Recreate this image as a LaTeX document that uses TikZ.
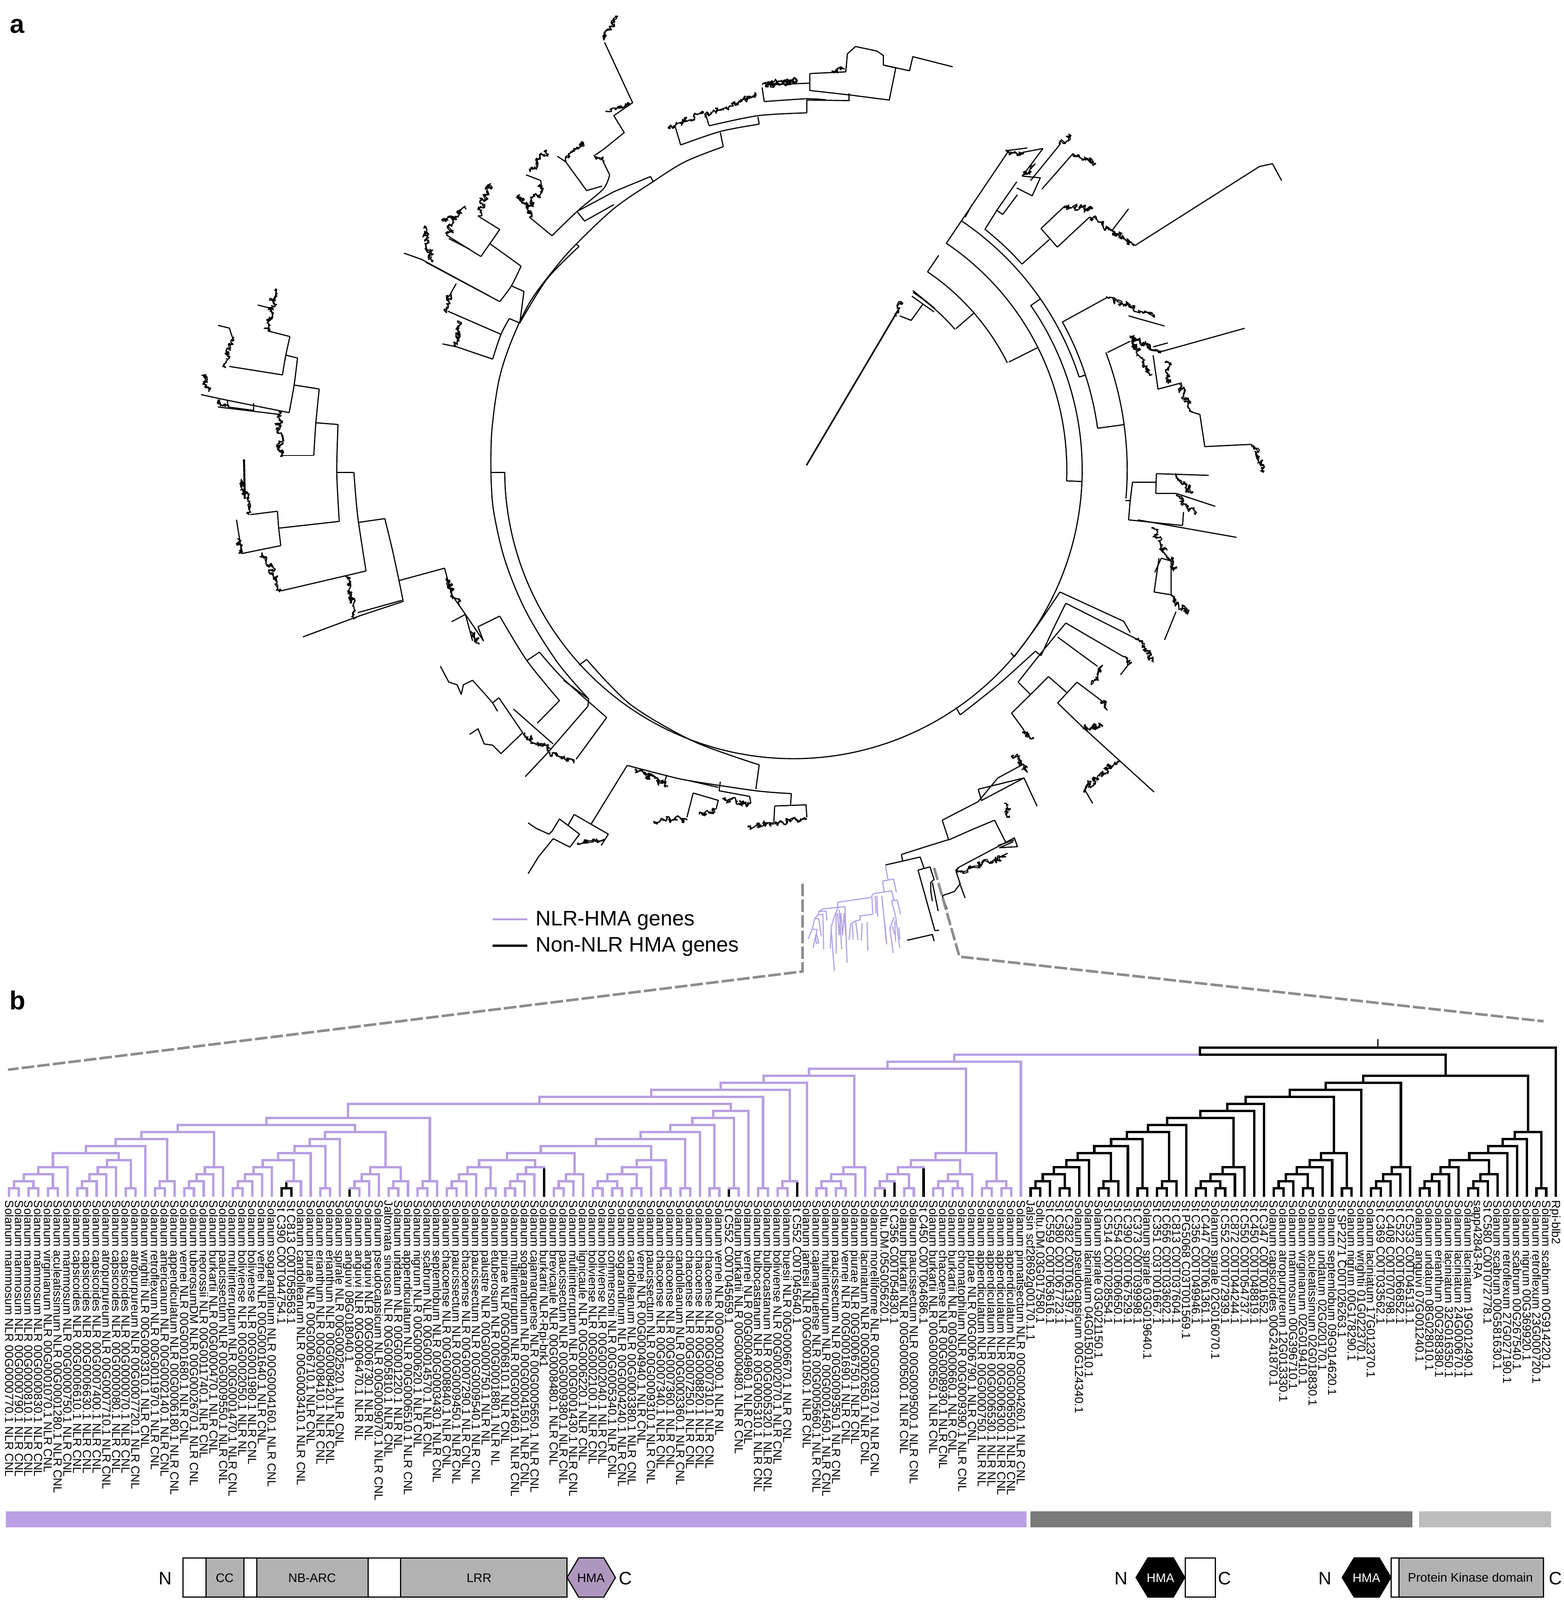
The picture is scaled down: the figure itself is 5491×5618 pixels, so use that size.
\documentclass[tikz,border=0pt]{standalone}
\usepackage{fontspec}
\setmainfont{Liberation Sans}
\usetikzlibrary{decorations.pathmorphing}
\definecolor{treep}{HTML}{B79FE2}
\definecolor{barp}{HTML}{BBA0E6}
\definecolor{bard}{HTML}{7A7A7A}
\definecolor{barl}{HTML}{BDBDBD}
\definecolor{dom}{HTML}{B2B2B2}
\definecolor{hmap}{HTML}{AE97BF}
\definecolor{dashc}{HTML}{8C8C8C}
\definecolor{twp}{HTML}{B3A3E6}
\tikzset{
  lab/.style={rotate=-90,anchor=base west,inner sep=0pt,font=\fontsize{11.77}{12}\selectfont},
  tbr/.style={line width=0.085cm},
  tw/.style={line width=0.04cm,line join=round},
  fz/.style={line width=0.035cm,line join=round,decorate,decoration={random steps,segment length=2pt,amplitude=3.5pt},
     postaction={draw,decorate,decoration={random steps,segment length=1.2pt,amplitude=2pt}}},
  pt/.style={line width=0.04cm,draw=twp,line join=round},
  dashln/.style={line width=0.09cm,draw=dashc,dash pattern=on 0.44cm off 0.11cm},
  gt/.style={inner sep=0pt,font=\fontsize{12.4}{13}\selectfont},
  nc/.style={inner sep=0pt,font=\fontsize{18}{20}\selectfont},
  dbox/.style={line width=0.04cm,draw=black},
  pan/.style={inner sep=0pt,font=\bfseries\fontsize{26}{28}\selectfont},
  leg/.style={inner sep=0pt,anchor=west,font=\fontsize{21}{24}\selectfont},
}
% --- stack machine for the cladogram of panel b
\newcount\stp \newcount\lfn
\def\tipy{4203}
\def\TipC#1{\global\advance\lfn1 \global\advance\stp1
  \pgfmathsetmacro\tmpx{32+34.16*(\the\lfn-1)}%
  \expandafter\xdef\csname tx\the\stp\endcsname{\tmpx}%
  \expandafter\xdef\csname ty\the\stp\endcsname{\tipy}%
  \expandafter\xdef\csname tc\the\stp\endcsname{#1}}
\def\P{\TipC{treep}}
\def\Q{\TipC{black}}
\def\JoinN#1#2#3#4{% level, node colour, left half colour, right half colour
  \edef\tia{\the\numexpr\stp-1\relax}\edef\tib{\the\stp}%
  \edef\xxa{\csname tx\tia\endcsname}\edef\xxb{\csname tx\tib\endcsname}%
  \edef\yya{\csname ty\tia\endcsname}\edef\yyb{\csname ty\tib\endcsname}%
  \edef\cca{\csname tc\tia\endcsname}\edef\ccb{\csname tc\tib\endcsname}%
  \pgfmathsetmacro\yyn{4172.5-24.69*(#1-1)}%
  \pgfmathsetmacro\xxm{(\xxa+\xxb)/2}%
  \draw[tbr,draw=\cca] (\xxa,\yya) -- (\xxa,\yyn);
  \draw[tbr,draw=\ccb] (\xxb,\yyb) -- (\xxb,\yyn);
  \draw[tbr,draw=#3,line cap=rect] (\xxa,\yyn) -- (\xxm,\yyn);
  \draw[tbr,draw=#4,line cap=rect] (\xxm,\yyn) -- (\xxb,\yyn);
  \global\advance\stp-1
  \expandafter\xdef\csname tx\the\stp\endcsname{\xxm}%
  \expandafter\xdef\csname ty\the\stp\endcsname{\yyn}%
  \expandafter\xdef\csname tc\the\stp\endcsname{#2}}
\def\Jp#1{\JoinN{#1}{treep}{treep}{treep}}
\def\Jk#1{\JoinN{#1}{black}{black}{black}}
% polar helpers for the main circular arcs
\def\parc#1#2#3{\draw[tw] plot[domain=#2:#3,samples=70,smooth] ({2786+#1*cos(\x)},{1650-#1*sin(\x)});}
\def\prad#1#2#3{\draw[tw] ({2786+#2*cos(#1)},{1650-#2*sin(#1)}) -- ({2786+#3*cos(#1)},{1650-#3*sin(#1)});}
\begin{document}
\begin{tikzpicture}[x=0.01cm,y=-0.01cm]
\useasboundingbox (0,0) rectangle (5491,5618);
\node[pan] (pa) at (60,92) {a};
\node[pan] (pb) at (62,3512) {b};
% ================= panel a : main arcs ====================
\parc{1014}{180.4}{394.8}
\parc{960}{-2.3}{56}
\prad{-2.3}{960}{1014}
\prad{26.6}{846}{960}
\parc{840}{26.6}{55.9}
\prad{55.9}{840}{910}
\prad{41}{756}{840}
\parc{752}{41}{56}
\prad{56}{960}{1346}
\prad{34.7}{1014}{1055}
\parc{1055}{18}{56}
\prad{18}{1055}{1078}
\parc{1078}{7.8}{28.9}
\parc{1080}{42}{51.4}
\prad{42}{1080}{1209}
\prad{7.8}{1078}{1172}
\prad{28.8}{1078}{1257}
\parc{1172}{-4.9}{20.6}
% ---------------- left half (coordinates of crop 1)
\begin{scope}[shift={(600,50)},x=0.01467cm,y=-0.01977cm]
\draw[tw] (766,813) -- (799,813);
\draw[tw] plot[smooth,tension=.55] coordinates {(766,813)(772,880)(800,970)(850,1060)(925,1150)(1000,1215)};
\draw[tw] plot[smooth,tension=.55] coordinates {(766,813)(768,740)(785,650)(815,580)(860,510)(920,450)(970,408)(1060,345)(1148,300)(1230,262)(1322,235)};
\draw[tw] (970,408) -- (977,412);
\draw[tw] plot[smooth] coordinates {(977,412)(900,470)(835,548)};
\draw[tw] (810,540) -- (835,548) -- (845,492) -- (815,482);
\draw[tw] plot[smooth] coordinates {(770,612)(790,568)(810,540)};
\draw[tw] plot[smooth] coordinates {(787,510)(815,482)(838,447)};
\draw[tw] (683,590) -- (770,612);
\draw[tw] (663,527) -- (790,568);
\draw[tw] (683,590) -- (650,585);
\draw[fz] (683,590) -- (690,545);
\draw[fz] (660,530) -- (670,495);
\draw[tw] (670,495) -- (683,478);
\draw[tw] (787,510) -- (600,435) -- (558,424);
\draw[tw] (762,500) -- (610,440);
\draw[fz] (605,380) -- (625,440);
\draw[tw] (838,447) -- (765,408);
\draw[tw] (787,382) -- (742,430);
\draw[tw] (787,382) -- (735,358);
\draw[fz] (735,358) -- (765,300);
\draw[fz] (705,345) -- (652,368);
\draw[tw] (742,430) -- (662,393) ;
\draw[tw] (715,417) -- (665,398);
\draw[fz] (662,393) -- (680,365);
% left clades
\draw[tw] plot[smooth] coordinates {(285,572)(275,605)(267,640)};
\draw[tw] (285,572) -- (232,562);
\draw[fz] (232,562) -- (248,490);
\draw[tw] (208,516) -- (240,522);
\draw[tw] (267,640) -- (140,625);
\draw[fz] (130,625) -- (148,575);
\draw[tw] (113,552) -- (140,557) -- (148,575);
\draw[tw] plot[smooth] coordinates {(303,610)(295,658)(283,707)};
\draw[tw] (303,610) -- (275,605);
\draw[tw] (283,707) -- (135,685) -- (137,697) -- (198,703) -- (198,690);
\draw[tw] (113,697) -- (258,710);
\draw[fz] (90,670) -- (78,640);
\draw[tw] (72,675) -- (135,685);
\draw[fz] (118,685) -- (135,695);
\draw[tw] plot[smooth] coordinates {(355,665)(347,725)(342,783)};
\draw[tw] (355,665) -- (295,658);
\draw[tw] (342,783) -- (263,783);
\draw[fz] (258,705) -- (262,785);
\draw[tw] plot[smooth] coordinates {(400,728)(397,813)(403,900)};
\draw[tw] (400,728) -- (347,725);
\draw[tw] (403,900) -- (258,912);
\draw[tw] (255,882) -- (258,912) -- (263,943);
\draw[tw] (255,882) -- (190,888);
\draw[fz] (188,888) -- (168,825);
\draw[tw,line width=0.07cm] (175,790) -- (177,860);
\draw[tw] (263,943) -- (170,957) -- (157,897);
\draw[fz] (170,957) -- (160,930);
\draw[tw] (396,813) -- (438,813);
\draw[tw] plot[smooth] coordinates {(438,813)(447,890)(467,988)};
\draw[tw] (467,988) -- (265,1023);
\draw[fz] (265,1023) -- (218,955);
\draw[tw] plot[smooth] coordinates {(512,895)(530,950)(546,1005)(556,1042)};
\draw[tw] (512,895) -- (447,902);
\draw[tw] (546,1005) -- (655,983);
\draw[tw] (556,1042) -- (450,1068) -- (316,1105);
\draw[tw] (447,1062) -- (553,1040);
\draw[fz] (418,998) -- (445,1070);
\draw[tw] (655,983) -- (672,1030) -- (705,1065) -- (748,1112) -- (735,1087);
\draw[fz] (660,1000) -- (690,1050);
\draw[tw] (672,1078) -- (705,1065) -- (722,1112) ;
\draw[fz] (718,1095) -- (738,1118);
% lower left
\draw[tw] plot[smooth] coordinates {(787,1068)(852,1147)(930,1218)};
\draw[tw] (787,1068) -- (735,1087);
\draw[tw] (852,1147) -- (882,1132);
\draw[tw] plot[smooth] coordinates {(882,1132)(940,1180)(1043,1248)};
\draw[tw] (940,1182) -- (1000,1215) -- (998,1228);
\draw[tw] (930,1218) -- (877,1258);
\draw[tw] (820,1233) -- (915,1295);
\draw[tw] (785,1213) -- (842,1275) -- (790,1312) -- (770,1297) -- (750,1295) -- (735,1268) -- (715,1278);
\draw[tw] (645,1157) -- (665,1185) -- (685,1190) -- (695,1207) -- (700,1190) -- (722,1182) -- (750,1205) -- (770,1222) -- (782,1237);
\draw[tw] (770,1222) -- (785,1213);
\draw[fz] (845,1280) -- (910,1305);
\draw[tw] (998,1228) -- (900,1312) -- (848,1353);
\draw[tw] (1043,1248) -- (970,1322);
\draw[fz] (905,1310) -- (965,1328);
% bottom
\draw[tw] plot[smooth] coordinates {(995,1145)(1100,1225)(1250,1290)(1408,1332)};
\draw[tw] (977,1155) -- (995,1145);
\draw[tw] (1408,1332) -- (1400,1375);
\draw[tw] plot[smooth] coordinates {(1092,1333)(1180,1350)(1240,1360)(1400,1378)(1485,1383)};
\draw[tw] (1092,1333) -- (1005,1438);
\draw[tw] (1485,1383) -- (1483,1403);
\draw[tw] (965,1420) -- (1047,1455);
\draw[tw] (965,1420) -- (950,1440);
\draw[tw] (855,1435) -- (875,1445) -- (905,1455) -- (912,1450) -- (930,1428) -- (978,1455) -- (955,1478) -- (915,1463) -- (880,1495) -- (855,1525);
\draw[tw] (1047,1455) -- (1030,1475);
\draw[fz] (975,1470) -- (1035,1468);
\draw[fz] (1110,1340) -- (1190,1370);
\draw[tw] (1180,1365) -- (1187,1350);
\draw[tw] (1240,1360) -- (1310,1372);
\draw[tw] (1250,1382) -- (1235,1425);
\draw[fz] (1235,1428) -- (1155,1432);
\draw[tw] (1250,1382) -- (1310,1395) -- (1305,1410);
\draw[fz] (1305,1410) -- (1265,1420);
\draw[tw] (1315,1362) -- (1312,1378) -- (1385,1388) -- (1388,1400);
\draw[fz] (1388,1400) -- (1320,1392);
\draw[tw] (1445,1405) -- (1520,1403) -- (1522,1425);
\draw[tw] (1445,1405) -- (1443,1435);
\draw[fz] (1443,1437) -- (1380,1442);
\draw[fz] (1522,1428) -- (1445,1437);
% top left
\draw[tw] (972,350) -- (1060,315) -- (1148,288) -- (1155,298);
\draw[tw] (972,350) -- (990,367) -- (1060,338);
\draw[tw] plot[smooth] coordinates {(912,393)(975,348)(1035,310)(1050,285)};
\draw[tw] (912,393) -- (858,360);
\draw[fz] (858,360) -- (835,320);
\draw[fz] (855,345) -- (888,305);
\draw[tw] (888,310) -- (885,295) -- (850,285);
\draw[fz] (860,280) -- (900,243);
\draw[tw] (1032,305) -- (995,313) -- (945,262);
\draw[fz] (945,262) -- (985,228);
\draw[tw] (925,252) -- (945,262);
\draw[tw] (1050,285) -- (1035,262);
\draw[fz] (1035,262) -- (1012,250);
\draw[tw] (1015,250) -- (1035,240) -- (1085,210) -- (1060,180) -- (1105,157) -- (1038,50);
\draw[fz] (1035,45) -- (1068,5);
\draw[fz] (1040,172) -- (1100,160);
\draw[tw] (1322,235) -- (1315,210);
\draw[tw] plot[smooth] coordinates {(1220,232)(1315,208)(1408,195)};
\draw[tw] (1220,232) -- (1208,202);
\draw[tw] (1408,195) -- (1405,182);
\draw[tw] plot[smooth] coordinates {(1288,198)(1405,180)(1522,175)};
\draw[tw] (1288,198) -- (1280,178);
\draw[tw] (1522,175) -- (1522,152);
\draw[tw] plot[smooth] coordinates {(1420,155)(1522,150)(1568,152)};
\draw[tw] (1420,155) -- (1415,130);
\draw[fz] (1192,203) -- (1270,172);
\draw[fz] (1280,180) -- (1400,145);
\draw[fz] (1415,125) -- (1500,118);
\end{scope}
% ---------------- right half (coordinates of crop 2)
\begin{scope}[shift={(2700,100)},x=0.01148cm,y=-0.01977cm]
\draw[tw] (0,100) -- (125,97);
\draw[tw] (125,80) -- (125,110) -- (247,118) -- (368,127) -- (388,70);
\draw[tw] (245,128) -- (245,115);
\draw[tw] (115,127) -- (247,128);
\draw[tw] (125,80) -- (235,77) -- (240,45) -- (265,32) -- (330,40) -- (350,48) -- (350,65) -- (430,75) -- (440,50) -- (562,68);
\draw[tw] (388,70) -- (350,65);
\draw[fz] (0,100) -- (85,92);
\draw[fz] (195,76) -- (232,72);
\draw[tw] (725,217) -- (790,212);
\draw[fz] (725,217) -- (780,222);
\draw[tw] (775,220) -- (838,213);
\draw[tw] (600,335) -- (622,312);
% root line
\draw[tw,line width=0.055cm] (115,775) -- (400,495);
\draw[fz] (385,510) -- (408,490);
\draw[tw] (470,490) -- (435,518) -- (400,510);
\draw[tw] (437,475) -- (505,503);
\draw[tw] (440,465) -- (508,497);
% upper right clades
\draw[tw] (660,357) -- (700,320) -- (758,272);
\draw[tw] (695,322) -- (715,330) -- (760,295);
\draw[tw] (758,283) -- (805,297) -- (830,265) -- (775,262) -- (838,213);
\draw[fz] (775,262) -- (815,240);
\draw[tw] (835,285) -- (930,222);
\draw[fz] (930,222) -- (1000,240);
\draw[tw] (800,270) -- (887,208);
\draw[fz] (887,208) -- (925,190);
\draw[tw] (832,355) -- (882,388);
\draw[tw] (832,355) -- (905,315);
\draw[fz] (905,315) -- (990,320);
\draw[tw] (882,388) -- (980,335);
\draw[fz] (980,335) -- (1120,385);
\draw[tw] (1050,358) -- (1100,320);
\draw[tw] (1120,385) -- (1500,245) -- (1540,240) -- (1568,270);
% middle right
\draw[fz] (1035,478) -- (1180,512);
\draw[tw] (1100,510) -- (1210,528);
\draw[tw] (1035,575) -- (1105,555);
\draw[fz] (1105,548) -- (1170,615);
\draw[fz] (1105,548) -- (1190,575);
\draw[tw] (1175,565) -- (1220,558);
\draw[tw] (1190,575) -- (1455,532);
\draw[tw] (1175,580) -- (1190,640) -- (1255,630);
\draw[fz] (1255,630) -- (1290,680);
\draw[tw] (1290,680) -- (1318,685) -- (1333,742) -- (1475,738);
\draw[fz] (1475,738) -- (1515,785);
\draw[fz] (1215,590) -- (1220,630);
\draw[tw] (1090,838) -- (1105,838);
\draw[tw] plot[smooth] coordinates {(1112,805)(1105,838)(1100,872)};
\draw[tw] (1112,805) -- (1185,805);
\draw[tw] (1185,790) -- (1183,825);
\draw[tw] (1185,790) -- (1345,793);
\draw[tw] (1183,825) -- (1245,825) -- (1365,848);
\draw[fz] (1245,790) -- (1295,825);
\draw[fz] (1245,828) -- (1300,860);
\draw[tw] (1100,872) -- (1265,882);
\draw[tw] (1128,872) -- (1430,903);
\draw[tw] (1265,882) -- (1268,858);
\draw[fz] (1175,885) -- (1240,960);
\draw[tw] (1180,965) -- (1200,940) -- (1230,945) -- (1230,1005) -- (1178,1000) -- (1193,940);
\draw[fz] (1230,1005) -- (1280,1040);
\draw[tw] (1245,1035) -- (1210,1085);
% lower right arcs
\draw[tw] (572,1205) -- (585,1218);
\draw[tw] plot[smooth] coordinates {(585,1218)(700,1165)(815,1105)};
\draw[tw] (815,1105) -- (832,1113);
\draw[tw] (740,1108) -- (750,1115);
\draw[tw] plot[smooth] coordinates {(750,1115)(820,1060)(890,1000)};
\draw[tw] (890,1000) -- (1085,1052) -- (1105,1072);
\draw[tw] plot[smooth] coordinates {(832,1113)(870,1065)(908,1020)};
\draw[tw] (908,1020) -- (1130,1085);
\draw[fz] (1130,1085) -- (1175,1125);
\draw[tw] plot[smooth] coordinates {(762,1160)(830,1110)(908,1055)};
\draw[tw] (908,1055) -- (1085,1115);
\draw[fz] (1085,1115) -- (1110,1125);
\draw[tw] (1105,1125) -- (1075,1147);
\draw[tw] (883,1080) -- (1005,1132);
\draw[fz] (1020,1130) -- (985,1165);
\draw[tw] (762,1160) -- (800,1182);
\draw[tw] plot[smooth] coordinates {(742,1215)(800,1182)(855,1150)};
\draw[tw] (855,1150) -- (910,1178);
\draw[tw] (942,1160) -- (883,1197);
\draw[tw] (942,1160) -- (1022,1195);
\draw[fz] (1022,1195) -- (1035,1210);
\draw[tw] (883,1197) -- (960,1240) -- (1178,1355);
\draw[fz] (960,1240) -- (1022,1238);
\draw[fz] (1065,1300) -- (965,1350);
\draw[tw] (965,1350) -- (990,1375);
\draw[tw] (742,1215) -- (780,1245);
\draw[fz] (775,1250) -- (810,1260);
\draw[fz] (750,1290) -- (790,1320);
\draw[tw] (530,1405) -- (640,1372) -- (700,1330) -- (780,1305);
\draw[tw] (530,1405) -- (550,1440);
\draw[tw] (640,1350) -- (780,1330) -- (820,1380);
\draw[tw] (640,1350) -- (650,1370) -- (780,1330);
\draw[fz] (720,1375) -- (735,1400);
\draw[tw] plot[smooth] coordinates {(550,1440)(620,1422)(690,1405)};
\draw[tw] (690,1405) -- (725,1445);
\draw[tw] (700,1450) -- (750,1440);
\draw[fz] (575,1495) -- (725,1470);
\end{scope}
% ---------------- bottom part (coordinates of crop 3)
\begin{scope}[shift={(2700,2900)},x=0.00574cm,y=-0.003827cm]
\draw[tw] plot[smooth] coordinates {(810,262)(950,195)(1100,125)};
\draw[tw] (810,262) -- (818,322);
\draw[tw] (712,358) -- (818,322) -- (925,285) -- (948,385);
\draw[tw] (912,405) -- (985,375);
\draw[tw] (912,405) -- (1015,960);
\draw[tw] (985,375) -- (1010,490) -- (990,520) -- (990,600) -- (1000,690);
\draw[tw] (1000,520) -- (1035,780);
\draw[tw] (1015,960) -- (1040,955);
\draw[tw] (845,1048) -- (1000,995) -- (1010,1055);
\draw[tw] (1140,410) -- (1160,380) -- (1500,110);
\draw[tw] (1500,105) -- (1520,190) -- (1410,200) -- (1495,145);
\draw[tw] (1160,380) -- (1145,420) -- (1170,530) -- (1135,600) -- (1060,640) -- (1090,760);
\draw[tw] (1165,520) -- (1200,660);
\draw[tw] (1380,310) -- (1460,250);
% purple
\draw[pt] (712,358) -- (728,490);
\draw[pt] (695,505) -- (762,487) -- (780,610);
\draw[pt] (695,505) -- (705,605);
\draw[pt] (640,620) -- (750,595) -- (765,680);
\draw[pt] (750,685) -- (785,680) -- (805,810);
\draw[pt] (750,685) -- (775,830);
\draw[pt] (640,620) -- (625,650);
\draw[pt] (420,745) -- (420,700) -- (625,655);
\draw[pt] (330,760) -- (465,740);
\draw[pt] (330,760) -- (305,785) -- (300,815) -- (280,850) -- (265,945) -- (240,1035);
\draw[pt] (305,785) -- (350,780) -- (355,865);
\draw[pt] (300,815) -- (330,810) -- (335,1130);
\draw[pt] (280,850) -- (305,850) -- (320,1010);
\draw[pt] (265,945) -- (295,950) -- (270,1115);
\draw[pt] (290,985) -- (305,1070) -- (290,1075) -- (285,1000);
\draw[pt] (425,745) -- (400,830) -- (380,930) -- (400,1330);
\draw[pt] (430,770) -- (445,1130);
\draw[pt] (465,740) -- (478,1255);
\draw[pt] (410,800) -- (410,1170);
\draw[pt] (420,800) -- (430,1000) -- (440,800) -- (450,1000) -- (460,800) -- (470,1000);
\draw[pt] (380,960) -- (375,1125);
\draw[pt] (635,810) -- (555,825) -- (560,860) -- (530,870) -- (500,900) -- (490,1045);
\draw[pt] (530,865) -- (545,1045);
\draw[pt] (600,880) -- (605,1145);
\draw[pt] (570,890) -- (565,1050);
\draw[pt] (510,900) -- (515,1040);
\draw[pt] (630,650) -- (635,810);
\draw[pt] (650,640) -- (655,800);
\draw[pt] (660,640) -- (665,830);
\draw[pt] (690,640) -- (720,1085);
\draw[pt] (705,860) -- (720,1060);
\draw[pt] (710,900) -- (715,1030);
\draw[pt] (765,835) -- (740,940) -- (760,1165);
\draw[pt] (775,830) -- (800,1115);
\draw[pt] (770,870) -- (775,1060);
\draw[pt] (755,920) -- (770,1000);
\draw[pt] (795,930) -- (800,1040);
\end{scope}
% ================= legend ====================
\coordinate (la1) at (1730,3228); \coordinate (la2) at (1852,3228);
\coordinate (lb1) at (1730,3321); \coordinate (lb2) at (1852,3321);
\draw[line width=0.08cm,draw=treep] (la1) -- (la2);
\draw[line width=0.08cm] (lb1) -- (lb2);
\node[leg] (lega) at (1880,3232) {NLR-HMA genes};
\node[leg] (legb) at (1880,3324) {Non-NLR HMA genes};
% ================= zoom guides ====================
\coordinate (gl1) at (2818,3103); \coordinate (gl2) at (2818,3411); \coordinate (gl3) at (28,3756);
\coordinate (gr1) at (3280,3047); \coordinate (gr2) at (3369,3359); \coordinate (gr3) at (5420,3586);
\draw[dashln] (gl1) -- (gl2) -- (gl3);
\draw[dashln] (gr1) -- (gr2) -- (gr3);
% ================= panel b : cladogram ====================
\P\P\Jp1\P\P\Jp1\Jp2\P\P\Jp1\Jp3\P\Jp4
\P\P\Jp1\P\Jp2\P\Jp3\P\Jp4\P\P\Jp1\Jp5\Jp6\P\Jp7
\P\P\Jp1\P\Jp2\Jp8
\P\P\Jp1\P\Jp2\P\Jp3\P\Jp4\Jp9
\P\P\Jp1\P\Jp2\P\Jp3\P\Jp4
\Q\Q\Jk1\P\Jp2\Jp5\P\Jp6\P\P\Jp1\Jp7\P\Jp8
\Q\P\Jp1\P\Jp2\P\Jp3\P\P\Jp1\P\Jp2\Jp4\Jp9\Jp{10}
\P\P\Jp1\P\Jp2\Jp{11}
\P\P\Jp1\P\Jp2\P\Jp3\P\P\Jp1\Jp4
\P\P\Jp1\P\Jp2\P\Jp3\Q\Jp4\Jp5
\P\P\Jp1\P\Jp2\P\Jp3\Jp6
\P\P\Jp1\P\P\Jp1\Jp2\P\P\Jp1\Jp3\P\Jp4\P\P\Jp1\Jp5\Jp7
\P\P\Jp1\Jp8\P\Jp9\P\P\Jp1\Jp{10}\Q\P\Jp1\Jp{11}\P\Jp{12}\Jp{13}
\P\P\Jp1\Jp{14}\P\P\Jp1\Q\Jp2\Jp{15}\P\Jp{16}
\P\P\Jp1\P\P\Jp1\Jp2\P\Jp3\P\Jp4\Jp{17}
\P\Q\Jp1\Q\Jp2\P\P\Jp1\Jp3\Q\Jp4
\P\P\Jp1\P\P\Jp1\Jp2\P\Jp3\Jp5
\P\P\Jp1\P\P\Jp1\Jp2\Jp6\Jp{18}\P\Jp{19}
% black clade
\Q\Q\Jk1\Q\Jk2\Q\Q\Jk1\Jk3\Q\Jk4\Q\Jk5\Q\Q\Jk1\Q\Jk2\Jk6\Q\Jk7\Q\Q\Jk1\Jk8
\Q\Q\Jk1\Q\Jk2\Jk9\Q\Jk{10}
\Q\Q\Jk1\Q\Q\Jk1\Jk2\Q\Jk3\Q\Jk4\Jk{11}\Q\Jk{12}\Q\Jk{13}
\Q\Q\Jk1\Q\Jk2\Q\Q\Jk1\Jk3\Q\Jk4\Q\Jk5\Q\Q\Jk1\Jk6\Jk{14}\Q\Jk{15}
\Q\Q\Jk1\Q\Jk2\Q\Jk3\Q\Jk4\Jk{16}
\Q\Q\Jk1\Q\Jk2\Q\Jk3\Q\Jk4\Q\Q\Jk1\Q\Jk2\Q\Jk3\Jk5\Q\Jk6\Q\Jk7\Q\Jk8\Q\Q\Jk1\Jk9\Jk{17}
\JoinN{20}{black}{treep}{black}
\Q\Jk{21}
\edef\rootx{\csname tx\the\stp\endcsname}
\edef\rooty{\csname ty\the\stp\endcsname}
\draw[line width=0.05cm] (\rootx,\rooty) -- (\rootx,3648);
% ================= labels ====================
\foreach \t [count=\i] in {
Solanum mammosum NLR 00G0000770.1 NLR CNL,
Solanum mammosum NLR 00G0000790.1 NLR CNL,
Solanum mammosum NLR 00G0000810.1 NLR CNL,
Solanum mammosum NLR 00G0000830.1 NLR CNL,
Solanum virginianum NLR 00G0001070.1 NLR CNL,
Solanum aculeatissimum NLR 00G0001280.1 NLR CNL,
Solanum mammosum NLR 00G0000750.1 NLR CNL,
Solanum capsicoides NLR 00G0006610.1 NLR CNL,
Solanum capsicoides NLR 00G0006630.1 NLR CNL,
Solanum capsicoides NLR 00G0007400.1 NLR CNL,
Solanum atropurpureum NLR 00G0007710.1 NLR CNL,
Solanum capsicoides NLR 00G0000080.1 NLR CNL,
Solanum capsicoides NLR 00G0000070.1 NLR CNL,
Solanum atropurpureum NLR 00G0007720.1 NLR CNL,
Solanum wrightii NLR 00G0003310.1 NLR CNL,
Solanum retroflexum NLR 00G0011970.1 NLR CNL,
Solanum americanum NLR 00G0002140.1 NLR CNL,
Solanum appendiculatum NLR 00G0006180.1 NLR CNL,
Solanum vernei NLR 00G0001680.1 NLR CNL,
Solanum tuberosumDM NLR 00G0002670.1 NLR CNL,
Solanum neorossii NLR 00G0011740.1 NLR CNL,
Solanum burkartii NLR 00G0000470.1 NLR CNL,
Solanum paucissectum NLR 00G0009550.1 NLR CNL,
Solanum multiinterruptum NLR 00G0001470.1 NLR CNL,
Solanum boliviense NLR 00G0002050.1 NLR NL,
Solanum boliviense NLR 00G0001980.1 NLR CNL,
Solanum vernei NLR 00G0001640.1 NLR CNL,
Solanum sogarandinum NLR 00G0004160.1 NLR CNL,
St C390 C00T044754.1,
St C813 C00T058563.1,
Solanum candolleanum NLR 00G0003410.1 NLR CNL,
Solanum piurae NLR 00G0006710.1 NLR CNL,
Solanum erianthum NLR 00G0008410.1 NLR CNL,
Solanum erianthum NLR 00G0008420.1 NLR CNL,
Solanum spirale NLR 00G0002520.1 NLR CNL,
Solanum anguivi 08G018040.1,
Solanum anguivi NLR 00G0006470.1 NLR NL,
Solanum anguivi NLR 00G0006730.1 NLR NL,
Solanum pseudocapsicum NLR 00G0009070.1 NLR CNL,
Jaltomata sinuosa NLR 00G0005810.1 NLR CNL,
Solanum undatum NLR 00G0001220.1 NLR NL,
Solanum appendiculatum NLR 00G0006510.1 NLR CNL,
Solanum nigrum NLR 00G0000620.1 NLR CNL,
Solanum scabrum NLR 00G0014570.1 NLR CNL,
Solanum septemlobum NLR 00G0003430.1 NLR CNL,
Solanum chacoense NLR 00G0008840.1 NLR CNL,
Solanum paucissectum NLR 00G0009450.1 NLR CNL,
Solanum chacoense NLR 00G0007290.1 NLR CNL,
Solanum paucissectum NLR 00G0009540.1 NLR CNL,
Solanum palustre NLR 00G0000750.1 NLR NL,
Solanum etuberosum NLR 00G0001880.1 NLR NL,
Solanum piurae NLR 00G0006810.1 NLR CNL,
Solanum multiinterruptum NLR 00G0001460.1 NLR CNL,
Solanum sogarandinum NLR 00G0004150.1 NLR CNL,
Solanum cajamarquense NLR 00G0005650.1 NLR CNL,
Solanum burkartii NLR-Rpi-brk1,
Solanum brevicaule NLR 00G0008480.1 NLR CNL,
Solanum paucissectum NLR 00G0009380.1 NLR CNL,
Solanum multiinterruptum NLR 00G0001430.1 NLR CNL,
Solanum lignicaule NLR 00G0006220.1 NLR CNL,
Solanum boliviense NLR 00G0002100.1 NLR CNL,
Solanum boliviense NLR 00G0002040.1 NLR CNL,
Solanum commersonii NLR 00G0005340.1 NLR CNL,
Solanum sogarandinum NLR 00G0004240.1 NLR CNL,
Solanum candolleanum NLR 00G0003380.1 NLR CNL,
Solanum vernei NLR 00G0004940.1 NLR CNL,
Solanum paucissectum NLR 00G0009310.1 NLR CNL,
Solanum chacoense NLR 00G0007340.1 NLR CNL,
Solanum chacoense NLR 00G0007360.1 NLR CNL,
Solanum candolleanum NLR 00G0003360.1 NLR CNL,
Solanum chacoense NLR 00G0007250.1 NLR CNL,
Solanum chacoense NLR 00G0008820.1 NLR CNL,
Solanum chacoense NLR 00G0007310.1 NLR CNL,
Solanum vernei NLR 00G0001900.1 NLR NL,
St C552 C00T045659.1,
Solanum burkartii NLR 00G0000480.1 NLR CNL,
Solanum vernei NLR 00G0004960.1 NLR CNL,
Solanum bulbocastanum NLR 00G0005310.1 NLR CNL,
Solanum bulbocastanum NLR 00G0005320.1 NLR CNL,
Solanum boliviense NLR 00G0002070.1 NLR CNL,
Solanum buesii NLR 00G0006670.1 NLR CNL,
St C552 C00T045640.1,
Solanum jamesii NLR 00G0001050.1 NLR CNL,
Solanum cajamarquense NLR 00G0005660.1 NLR CNL,
Solanum multiinterruptum NLR 00G0001450.1 NLR CNL,
Solanum paucissectum NLR 00G0009350.1 NLR CNL,
Solanum vernei NLR 00G0001690.1 NLR CNL,
Solanum piurae NLR 00G0006750.1 NLR CNL,
Solanum laciniatum NLR 00G0002650.1 NLR CNL,
Solanum morelliforme NLR 00G0003170.1 NLR CNL,
Soltu.DM.05G005620.1,
St C356 C00T054830.1,
Solanum burkartii NLR 00G0000500.1 NLR CNL,
Solanum paucissectum NLR 00G0009500.1 NLR CNL,
St C450 C00T064686.1,
Solanum burkartii NLR 00G0000550.1 NLR CNL,
Solanum chacoense NLR 00G0008930.1 NLR CNL,
Solanum burkartii NLR 00G0000660.1 NLR CNL,
Solanum chomatophilum NLR 00G0009390.1 NLR CNL,
Solanum piurae NLR 00G0006790.1 NLR CNL,
Solanum appendiculatum NLR 00G0000750.1 NLR NL,
Solanum appendiculatum NLR 00G0006530.1 NLR NL,
Solanum appendiculatum NLR 00G0006300.1 NLR CNL,
Solanum appendiculatum NLR 00G0006500.1 NLR CNL,
Solanum pinnatisectum NLR 00G0004260.1 NLR CNL,
Jalsin scf28692g00170.1.1,
Soltu.DM.03G017580.1,
St C559 C00T063616.1,
St C580 C00T067723.1,
St C382 C00T061397.1,
Solanum pseudocapsicum 00G124340.1,
Solanum laciniatum 04G015010.1,
Solanum spirale 03G021150.1,
St C514 C00T028554.1,
St C554 C00T060650.1,
St C390 C00T067529.1,
St C373 C00T039998.1,
Solanum spirale 03G019640.1,
St C351 C03T001667.1,
St C656 C00T033602.1,
St C813 C00T037604.1,
St PG5068 C03T001569.1,
St C356 C00T049946.1,
St C447 C00T061361.1,
Solanum spirale 02G016070.1,
St C552 C00T072939.1,
St C872 C00T044244.1,
St C550 C00T054737.1,
St C450 C00T048819.1,
St C347 C00T001652.1,
Solanum capsicoides 00G241870.1,
Solanum atropurpureum 12G013330.1,
Solanum mammosum 00G396710.1,
Solanum virginianum 02G019410.1,
Solanum aculeatissimum 02G018830.1,
Solanum undatum 02G020170.1,
Solanum septemlobum 09G014620.1,
St SP2271 C00T026263.1,
Solanum nigrum 00G178290.1,
Solanum wrightii 01G022370.1,
Solanum laciniatum 17G012370.1,
St C369 C00T033562.1,
St C408 C00T070798.1,
St C522 C00T066852.1,
St C533 C00T045131.1,
Solanum anguivi 07G001240.1,
Solanum undatum 08G028010.1,
Solanum erianthum 00G288380.1,
Solanum laciniatum 32G016350.1,
Solanum laciniatum 24G000670.1,
Solanum laciniatum 19G012490.1,
sapp42843-RA,
St C580 C00T072778.1,
Solanum scabrum 00G581630.1,
Solanum retroflexum 27G027190.1,
Solanum scabrum 00G267540.1,
Solanum nigrum 00G369920.1,
Solanum retroflexum 23G000720.1,
Solanum scabrum 00G914220.1,
Rpi-blb2}{
  \node[lab] (tip\i) at ({18+34.16*(\i-1)},4214) {\t};
}
% ================= class bars ====================
\fill[barp] (20,5307) rectangle (3605,5363);
\fill[bard] (3618,5307) rectangle (4959,5363);
\fill[barl] (4983,5307) rectangle (5447,5363);
% ================= domain diagrams ====================
\node[nc] (n1) at (580,5542) {N};
\draw[dbox] (643,5470) rectangle (723,5608);
\draw[dbox,fill=dom] (723,5470) rectangle (857,5608);
\draw[dbox] (857,5470) rectangle (902,5608);
\draw[dbox,fill=dom] (902,5470) rectangle (1293,5608);
\draw[dbox] (1293,5470) rectangle (1407,5608);
\draw[dbox,fill=dom] (1407,5470) rectangle (1991,5608);
\draw[dbox,fill=hmap] (1991,5539) -- (2032,5470) -- (2120,5470) -- (2161,5539) -- (2120,5608) -- (2032,5608) -- cycle;
\node[gt] (cc) at (789,5541) {CC};
\node[gt] (nb) at (1096,5541) {NB-ARC};
\node[gt] (lrr) at (1682,5541) {LRR};
\node[gt] (hma1) at (2075,5541) {HMA};
\node[nc] (c1) at (2196,5542) {C};
\node[nc] (n2) at (3936,5542) {N};
\draw[dbox,fill=black] (3989,5539) -- (4031,5470) -- (4120,5470) -- (4160,5539) -- (4120,5608) -- (4031,5608) -- cycle;
\node[gt,text=white] (hma2) at (4075,5541) {HMA};
\draw[dbox] (4162,5470) rectangle (4268,5608);
\node[nc] (c2) at (4300,5542) {C};
\node[nc] (n3) at (4653,5542) {N};
\draw[dbox,fill=black] (4713,5539) -- (4755,5470) -- (4843,5470) -- (4884,5539) -- (4843,5608) -- (4755,5608) -- cycle;
\node[gt,text=white] (hma3) at (4798,5541) {HMA};
\draw[dbox] (4885,5470) rectangle (4912,5608);
\draw[dbox,fill=dom] (4912,5470) rectangle (5420,5608);
\node[gt] (pk) at (5163,5538) {Protein Kinase domain};
\node[nc] (c3) at (5462,5542) {C};
\end{tikzpicture}
\end{document}
